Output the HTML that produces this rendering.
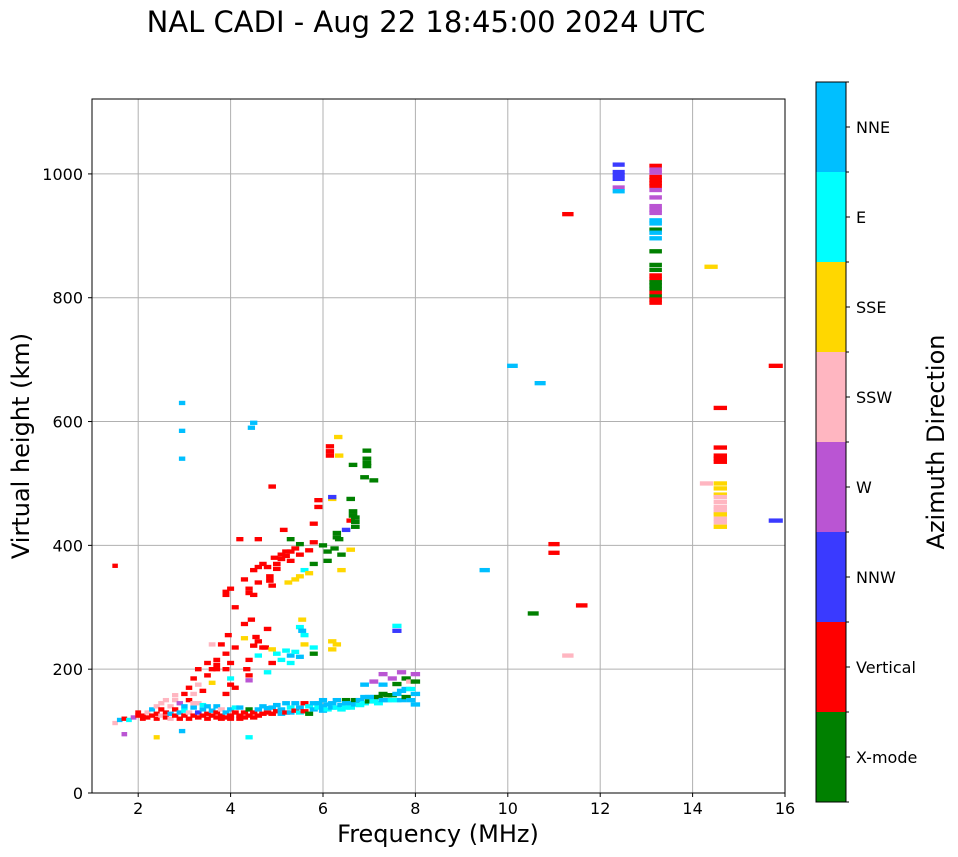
<!DOCTYPE html>
<html><head><meta charset="utf-8">
<style>
body{margin:0;background:#fff;font-family:"DejaVu Sans",sans-serif;}
svg{display:block}
text{font-family:"DejaVu Sans",sans-serif;fill:#000}
</style></head>
<body>
<svg id="chart" width="958" height="857" viewBox="0 0 958 857">
<text x="426" y="32" font-size="29" text-anchor="middle">NAL CADI - Aug 22 18:45:00 2024 UTC</text>
<g id="grid"></g>
<g id="marks"></g>
<rect x="92" y="99" width="693" height="694" fill="none" stroke="#000" stroke-width="1"/>
<g id="axes"></g>
<text x="438" y="842" font-size="24" text-anchor="middle">Frequency (MHz)</text>
<text transform="translate(29,446) rotate(-90)" font-size="24" text-anchor="middle">Virtual height (km)</text>
<g id="cbar"></g>
<text transform="translate(944,442) rotate(-90)" font-size="24" text-anchor="middle">Azimuth Direction</text>
</svg>
<script>
const directions = ["X-mode","Vertical","NNW","W","SSW","SSE","E","NNE"];
const dirColors = ["#008000","#ff0000","#3a3aff","#ba55d3","#ffb6c1","#ffd700","#00ffff","#00bfff"];
const xTicks = [2,4,6,8,10,12,14,16];
const yTicks = [0,200,400,600,800,1000];
// echoes: [frequency MHz, virtual height km, direction index]
const echoes = [
// E-layer trace
[1.5,113,4],[1.6,118,7],[1.7,120,1],[1.8,118,6],[1.9,122,3],[2.0,125,1],[2.0,130,1],[2.1,125,1],[2.1,120,1],[2.2,130,4],[2.2,122,1],[2.3,125,1],[2.3,135,7],[2.4,128,1],[2.4,140,4],[2.4,120,1],[2.5,125,4],[2.5,135,1],[2.5,145,4],[2.6,130,1],[2.6,122,1],[2.6,150,4],[2.7,128,7],[2.7,140,4],[2.7,120,4],[2.8,125,1],[2.8,135,1],[2.8,150,4],[2.8,158,4],[2.9,130,7],[2.9,145,3],[2.9,120,1],[3.0,125,1],[3.0,140,7],[3.0,133,6],[3.1,130,4],[3.1,150,1],[3.1,120,1],[3.2,125,1],[3.2,138,7],[3.2,145,4],[3.3,130,2],[3.3,145,4],[3.3,122,1],[3.4,125,1],[3.4,135,7],[3.4,142,6],[3.5,128,1],[3.5,140,7],[3.5,120,1],[3.6,125,1],[3.6,133,7],[3.7,130,1],[3.7,140,7],[3.7,122,1],[3.8,125,1],[3.8,135,4],[3.8,120,1],[3.9,130,7],[3.9,122,1],[4.0,125,1],[4.0,135,7],[4.0,120,1],[4.1,130,1],[4.1,138,6],[4.2,125,1],[4.2,138,7],[4.2,120,1],[4.3,130,1],[4.3,122,1],[4.4,125,1],[4.4,135,0],[4.5,130,1],[4.5,122,1],[4.6,135,7],[4.6,125,1],[4.7,128,1],[4.7,140,7],[4.8,130,1],[4.8,137,7],[4.9,138,7],[4.9,128,1],[5.0,132,1],[5.0,142,7],[5.1,135,7],[5.1,128,7],[5.2,130,1],[5.2,145,7],[5.3,138,6],[5.3,130,7],[5.4,133,1],[5.4,145,7],[5.5,138,7],[5.5,130,6],[5.6,132,1],[5.6,145,1],[5.7,128,0],[5.7,140,6],[5.8,145,7],[5.8,135,7],[5.9,138,6],[5.9,145,7],[6.0,140,7],[6.0,150,7],[6.0,133,7],[6.1,135,6],[6.1,143,7],[6.2,145,7],[6.2,138,7],[6.3,138,6],[6.3,150,7],[6.4,142,7],[6.4,135,6],[6.5,138,6],[6.5,150,0],[6.5,145,7],[6.6,145,7],[6.6,138,6],[6.7,150,0],[6.7,143,7],[6.8,142,6],[6.8,150,7],[6.9,155,7],[6.9,145,6],[7.0,148,0],[7.0,155,7],[7.1,155,7],[7.1,148,6],[7.2,145,6],[7.2,155,0],[7.3,160,0],[7.3,150,7],[7.4,150,7],[7.4,158,0],[7.5,158,0],[7.5,150,6],[7.6,150,6],[7.6,160,7],[7.7,165,7],[7.7,150,7],[7.8,155,0],[7.8,168,7],[7.9,168,6],[7.9,150,7],[8.0,160,7],[8.0,143,7],[7.5,185,3],[7.7,195,3],[7.8,185,0],[7.9,180,4],[8.0,192,3],[7.3,192,3],[7.1,180,3],[6.9,175,7],[7.6,176,0],[7.3,175,7],[8.0,180,0],
[2.95,100,7],[2.4,90,5],[4.4,90,6],[1.7,95,3],[4.4,182,3],
// low F cluster / rising trace
[3.0,160,1],[3.1,170,1],[3.2,185,1],[3.3,200,1],[3.3,175,4],[3.2,160,4],[3.4,165,1],[3.5,190,1],[3.5,210,1],[3.6,200,1],[3.7,200,1],[3.7,215,1],[3.7,207,1],[3.6,240,4],[3.8,240,1],[3.9,225,1],[3.9,200,1],[4.0,210,1],[4.0,185,6],[4.1,235,1],[4.0,175,1],[4.3,250,5],[4.35,200,1],[4.4,190,1],[4.5,238,1],[4.4,215,1],[4.6,222,6],[4.7,235,1],[4.8,195,6],[4.9,210,1],[5.0,225,6],[5.1,215,6],[5.2,230,6],[5.3,222,7],[5.4,228,6],[5.5,220,7],[5.6,240,5],[5.8,235,6],[5.8,225,0],[6.2,245,5],[6.3,240,5],[6.2,232,5],[5.5,268,6],[5.55,280,5],[5.55,262,7],[5.6,255,6],[7.6,270,6],[7.6,262,2],[4.8,265,1],[3.95,255,1],[4.45,280,1],[4.3,273,1],[4.55,252,1],[4.75,235,1],[4.6,245,1],[3.6,178,5],[4.1,170,1],[3.9,160,1],[5.3,210,6],[4.9,232,5],
// upper F trace
[3.9,320,1],[3.9,325,1],[4.0,330,1],[4.1,300,1],[4.3,345,1],[4.4,330,1],[4.4,323,1],[4.5,360,1],[4.5,320,1],[4.6,340,1],[4.6,365,1],[4.7,370,1],[4.8,365,1],[4.85,350,1],[4.85,343,1],[4.9,335,1],[4.95,380,1],[5.0,370,1],[5.0,362,1],[5.1,385,1],[5.1,378,1],[5.15,425,1],[5.2,390,1],[5.2,383,1],[5.25,340,5],[5.3,375,1],[5.3,390,1],[5.4,395,1],[5.4,345,5],[5.5,385,1],[5.5,350,5],[5.5,402,0],[5.6,360,6],[5.7,355,5],[5.7,392,1],[5.8,435,1],[5.8,405,1],[5.9,473,1],[5.9,462,1],[6.0,400,0],[6.1,390,0],[6.1,375,0],[6.15,545,1],[6.15,552,1],[6.15,560,1],[6.2,475,5],[6.2,478,2],[6.25,395,0],[6.3,420,0],[6.3,413,0],[6.35,410,0],[6.33,575,5],[6.35,545,5],[6.4,385,0],[6.5,425,2],[6.6,440,1],[6.6,393,5],[6.6,475,0],[6.65,455,0],[6.65,448,0],[6.65,530,0],[6.7,445,0],[6.7,430,0],[6.7,438,0],[6.9,510,0],[6.95,553,0],[6.95,540,0],[6.95,528,0],[6.95,533,0],[7.1,505,0],[6.4,360,5],[5.8,370,0],[5.3,410,0],[4.6,410,1],[4.2,410,1],
// isolated
[1.5,367,1],[2.95,630,7],[2.95,585,7],[2.95,540,7],[4.45,590,7],[4.5,598,7],[4.9,495,1],[9.5,360,7],[10.1,690,7],[10.7,662,7],[11.3,935,1],[11.0,402,1],[11.0,388,1],[10.55,290,0],[11.6,303,1],[11.3,222,4],
// 12.4 MHz column
[12.4,1015,2],[12.4,1003,2],[12.4,998,2],[12.4,992,2],[12.4,978,3],[12.4,972,7],
// 13.2 MHz column
[13.2,1013,1],[13.2,1007,3],[13.2,1002,3],[13.2,995,1],[13.2,990,1],[13.2,985,1],[13.2,980,1],[13.2,974,3],[13.2,962,3],[13.2,948,3],[13.2,942,3],[13.2,937,3],[13.2,925,7],[13.2,920,7],[13.2,910,0],[13.2,905,7],[13.2,896,7],[13.2,875,0],[13.2,853,0],[13.2,845,0],[13.2,836,1],[13.2,830,1],[13.2,825,0],[13.2,820,0],[13.2,814,0],[13.2,808,1],[13.2,802,0],[13.2,797,1],[13.2,792,1],
// 14.x column
[14.4,850,5],[14.6,558,1],[14.6,545,1],[14.6,540,1],[14.6,535,1],[14.3,500,4],[14.6,500,5],[14.6,492,5],[14.6,482,5],[14.6,478,4],[14.6,470,4],[14.6,462,4],[14.6,458,4],[14.6,453,4],[14.6,450,5],[14.6,443,4],[14.6,437,4],[14.6,430,5],[14.6,622,1],
[15.8,690,1],[15.8,440,2]
];
const NS="http://www.w3.org/2000/svg";
const X0=92,X1=785,Y0=793,Y1=99,FMIN=1,FMAX=16,HMIN=0,HMAX=1121;
const xs=f=>X0+(f-FMIN)/(FMAX-FMIN)*(X1-X0);
const ys=h=>Y0-(h-HMIN)/(HMAX-HMIN)*(Y0-Y1);
function mk(tag,attrs,parent){const e=document.createElementNS(NS,tag);for(const k in attrs)e.setAttribute(k,attrs[k]);parent.appendChild(e);return e;}
const grid=document.getElementById('grid'),axes=document.getElementById('axes'),marks=document.getElementById('marks'),cbar=document.getElementById('cbar');
xTicks.forEach(t=>{const x=xs(t);
 if(t<FMAX){const l=mk('line',{x1:x,x2:x,y1:Y1,y2:Y0,stroke:'#b0b0b0','stroke-width':1},grid);
 
 }
 mk('line',{x1:x,x2:x,y1:Y0,y2:Y0+4,stroke:'#000'},axes);
 const tx=mk('text',{x:x,y:Y0+21,'font-size':16,'text-anchor':'middle'},axes);tx.textContent=t;
 
 });
yTicks.forEach(t=>{const y=ys(t);
 if(t>0){const l=mk('line',{x1:X0,x2:X1,y1:y,y2:y,stroke:'#b0b0b0','stroke-width':1},grid);
 
 }
 mk('line',{x1:X0-4,x2:X0,y1:y,y2:y,stroke:'#000'},axes);
 const tx=mk('text',{x:X0-9,y:y+6,'font-size':16,'text-anchor':'end'},axes);tx.textContent=t;
 
 });
echoes.forEach(([f,h,d])=>{const wf=0.1+0.013*f;const x=xs(f-wf/2),w=xs(f+wf/2)-x;const y=ys(h+3.5),hh=ys(h-3.5)-y;
 const r=mk('rect',{x:x,y:y,width:w,height:hh,fill:dirColors[d]},marks);
 
 });
const CX=816,CW=30,CT=82,CB=802,seg=(CB-CT)/directions.length;
directions.forEach((name,i)=>{const y=CB-(i+1)*seg;
 const r=mk('rect',{x:CX,y:y,width:CW,height:seg,fill:dirColors[i]},cbar);
 
 
 mk('line',{x1:CX+CW,x2:CX+CW+4,y1:y+seg/2,y2:y+seg/2,stroke:'#000'},cbar);
 mk('line',{x1:CX+CW,x2:CX+CW+3,y1:y,y2:y,stroke:'#000'},cbar);
 const tx=mk('text',{x:CX+CW+10,y:y+seg/2+6,'font-size':16},cbar);tx.textContent=name;
 
 });
mk('line',{x1:CX+CW,x2:CX+CW+3,y1:CB,y2:CB,stroke:'#000'},cbar);
mk('rect',{x:CX,y:CT,width:CW,height:CB-CT,fill:'none',stroke:'#000'},cbar);
</script>
</body></html>
